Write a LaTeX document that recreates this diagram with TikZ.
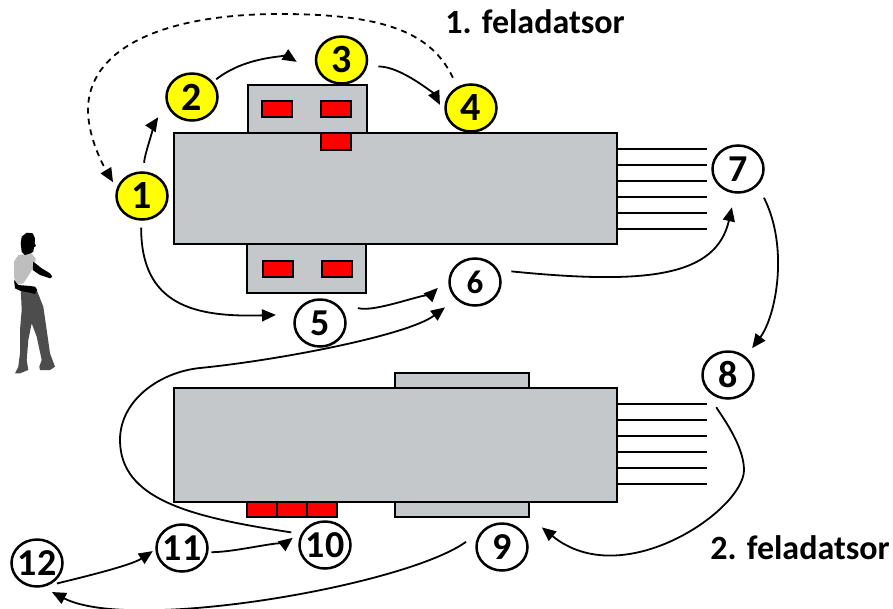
\documentclass[tikz,border=0pt]{standalone}
\usepackage{fontspec}
\setmainfont{Carlito}
\usetikzlibrary{arrows.meta,shapes.geometric}

\definecolor{partgray}{RGB}{197,200,203}
\definecolor{padred}{RGB}{255,0,0}
\definecolor{stepyellow}{RGB}{255,255,0}
\definecolor{shirtgray}{RGB}{190,190,190}
\definecolor{overallgray}{RGB}{77,77,77}

\newcommand{\nr}[1]{\makebox[0pt]{#1}}

\tikzset{
  part/.style={draw, line width=2.5pt, fill=partgray, inner sep=0pt},
  pad/.style={draw, line width=2pt, fill=padred, inner sep=0pt,
    minimum width=30pt, minimum height=16pt},
  wire/.style={line width=2.5pt},
  num/.style={ellipse, draw, line width=2.5pt, inner sep=0pt,
    minimum width=51pt, minimum height=47pt,
    font=\bfseries\fontsize{38}{38}\selectfont},
  yel/.style={num, fill=stepyellow, font=\bfseries\fontsize{40}{40}\selectfont},
  wht/.style={num, fill=white},
  task/.style={font=\bfseries\fontsize{34}{34}\selectfont},
  flow/.style={-{Triangle[length=14pt,width=12pt]}, line width=1.8pt},
  dflow/.style={flow, dash pattern=on 6pt off 5pt},
}

\begin{document}
\begin{tikzpicture}[x=1pt,y=1pt]
  \fill[white] (0,0) rectangle (893,-608);
  \useasboundingbox (0,0) rectangle (893,-608);

  % worker
  \fill[overallgray] (20.7,-288.3) -- (36.7,-290) -- (43.3,-306.7) -- (46.7,-330)
    -- (50,-353.3) -- (55,-366.7) -- (50,-370) -- (40,-370) -- (39.3,-366.7)
    -- (41.7,-360) -- (36.7,-336.7) -- (31.7,-323.3) -- (28.3,-340) -- (26.7,-360)
    -- (28.3,-370) -- (20,-373.3) -- (15,-373.3) -- (18.3,-366.7) -- (20,-353.3)
    -- (20,-330) -- (21.7,-310) -- cycle;
  \fill[shirtgray] (14,-261.7) -- (18.3,-255) -- (31.7,-253.3) -- (36,-259.3)
    -- (33.3,-266.7) -- (30,-273.3) -- (26.7,-278.3) -- (23.3,-283.3)
    -- (16,-285) -- (14,-276.7) -- cycle;
  \fill[black] (33.3,-261.7) -- (41.7,-268.3) -- (50,-273.3) -- (52.3,-276.7)
    -- (50,-278.3) -- (40,-275) -- (32.7,-270) -- cycle;
  \fill[black] (14,-280) -- (18.3,-285) -- (30,-286) -- (35,-286.7) -- (37.3,-290)
    -- (35,-294) -- (30,-292.7) -- (20,-290.7) -- (15,-288.3) -- cycle;
  \fill[black] (20.7,-243.3) -- (21.7,-236.7) -- (26.7,-232.7) -- (32.7,-233.3)
    -- (35,-238.3) -- (34.7,-243.3) -- (36,-246) -- (34,-247.3) -- (33.3,-251.7)
    -- (30.7,-253.3) -- (25,-255) -- (21.7,-251.7) -- cycle;

  % upper machine
  \node[part, minimum width=119pt, minimum height=48pt] (upTop) at (307.5,-109) {};
  \node[part, minimum width=119pt, minimum height=49pt] (upBot) at (306.5,-268.5) {};
  \node[part, minimum width=443pt, minimum height=111pt] (upper) at (395.5,-188.5) {};
  \node[pad] (padA) at (277,-109) {};
  \node[pad] (padB) at (336,-109) {};
  \node[pad, minimum height=17pt] (padC) at (336,-141.5) {};
  \node[pad] (padD) at (277.5,-269) {};
  \node[pad] (padE) at (336.5,-269) {};
  \foreach \y in {149,165,...,229}
    \draw[wire] (upper.east |- 0,-\y) -- ++(89,0);

  % lower machine
  \node[part, minimum width=134pt, minimum height=15pt] (lowTop) at (462,-380.5) {};
  \node[part, minimum width=134pt, minimum height=15pt] (lowBot) at (462,-509.5) {};
  \node[part, minimum width=443pt, minimum height=114pt] (lower) at (395.5,-445) {};
  \node[pad, minimum width=29.7pt, minimum height=15pt] (padF) at (262.3,-509.5) {};
  \node[pad, minimum width=29.7pt, minimum height=15pt] (padG) at (292,-509.5) {};
  \node[pad, minimum width=29.7pt, minimum height=15pt] (padH) at (321.7,-509.5) {};
  \foreach \y in {404,420,...,484}
    \draw[wire] (lower.east |- 0,-\y) -- ++(89,0);

  % steps
  \node[yel] (n1) at (142,-196) {\nr{1}};
  \node[yel] (n2) at (192,-97) {\nr{2}};
  \node[yel] (n3) at (341.5,-60) {\nr{3}};
  \node[yel] (n4) at (471,-108) {\nr{4}};
  \node[wht] (n5) at (320,-323) {\nr{5}};
  \node[wht, font=\bfseries\fontsize{33}{33}\selectfont] (n6) at (475,-282) {\nr{6}};
  \node[wht] (n7) at (738,-169) {\nr{7}};
  \node[wht] (n8) at (728,-375) {\nr{8}};
  \node[wht] (n9) at (502,-547) {\nr{9}};
  \node[wht] (n10) at (325,-545) {\nr{10}};
  \node[wht] (n11) at (182,-548) {\nr{11}};
  \node[wht] (n12) at (37,-563) {\nr{12}};

  \node[task] (task1) at (535,-22) {1. feladatsor};
  \node[task] (task2) at (800,-548) {2. feladatsor};

  % first task set
  \draw[flow, shorten <=8.5pt, shorten >=15pt] (n1.85)
    .. controls +(0,18) and +(-7.8,-11.6) .. (n2.197);
  \draw[flow, shorten <=4pt, shorten >=37pt] (n2.36)
    .. controls +(35.6,27.5) and +(-38.3,23.9) .. (n3.238);
  \draw[flow, shorten <=11pt, shorten >=15pt] (n3.-14)
    .. controls +(35,0) and +(-11.2,22.3) .. (n4.203);
  \draw[dflow, shorten <=10pt, shorten >=7pt] (n4.123)
    .. controls +(-25.8,54) and +(105,0) .. (280,-14)
    .. controls +(-120,0) and +(0,60) .. (88,-110)
    .. controls +(0,-30) and +(-10.2,17.2) .. (n1.163);

  % second task set
  \draw[flow, shorten <=7pt, shorten >=19pt] (n1.268)
    .. controls +(0,-85) and +(-100,-3) .. (n5.161);
  \draw[flow, shorten <=31pt, shorten >=15.5pt] (n5.71)
    .. controls +(48,-14) and +(-10.6,-10.6) .. (n6.169);
  \draw[flow, shorten <=13pt, shorten >=14pt] (n6.27)
    .. controls +(149,-15) and +(-18.7,-82.9) .. (n7.263);
  \draw[flow, shorten <=13.5pt, shorten >=10.5pt] (n7.320)
    .. controls +(31.5,-62.3) and +(30,40) .. (n8.46);
  \draw[flow, shorten <=22pt, shorten >=15pt] (n8.210)
    .. controls +(15,-26.1) and +(0,25) .. (744,-470)
    .. controls +(0,-40) and +(92.4,-75.6) .. (lowBot.-7);
  \draw[flow, shorten <=26pt, shorten >=10.5pt] (n9.126)
    .. controls +(-81,-59) and +(89,-46) .. (n12.283);
  \draw[flow, shorten <=10pt, shorten >=3pt] (n12.294)
    .. controls +(29,7.2) and +(-24.9,-16.5) .. (n11.183);
  \draw[flow, shorten <=3pt, shorten >=21pt] (n11.351)
    .. controls +(30,0) and +(-15.8,-12.2) .. (n10.128);
  \draw[flow, shorten <=10pt, shorten >=13.5pt] (n10.155)
    .. controls +(-108.9,16.5) and +(0,-60) .. (120,-440)
    .. controls +(0,40) and +(-40,-4) .. (200,-368)
    .. controls +(80,8) and +(-48,-36) .. (n6.222);
\end{tikzpicture}
\end{document}
